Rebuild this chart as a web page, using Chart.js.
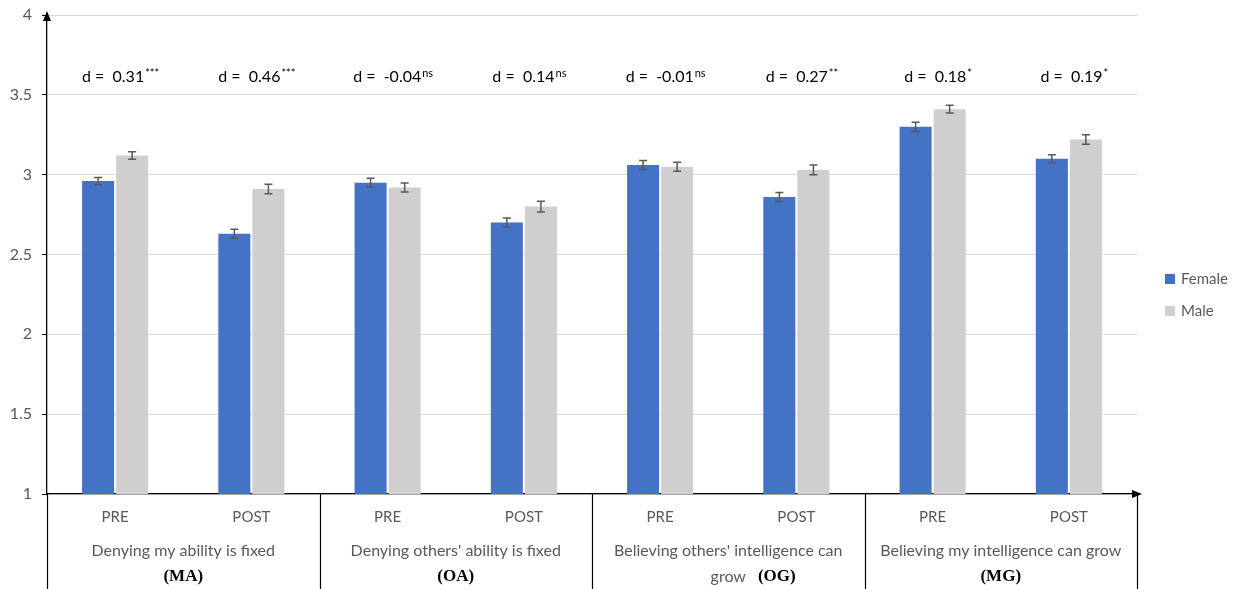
<!DOCTYPE html>
<html>
<head>
<meta charset="utf-8">
<script src="https://cdn.jsdelivr.net/npm/chart.js@4.4.1/dist/chart.umd.min.js"></script>
<style>
  body { margin: 0; background: #fff; }
  #wrap { width: 1236px; height: 589px; }
</style>
</head>
<body>
<div id="wrap"><canvas id="barChart"></canvas></div>
<script>
// data
const categories = ["PRE", "POST", "PRE", "POST", "PRE", "POST", "PRE", "POST"];
const femaleValues = [2.96, 2.63, 2.95, 2.70, 3.06, 2.86, 3.30, 3.10];
const maleValues = [3.12, 2.91, 2.92, 2.80, 3.05, 3.03, 3.41, 3.22];
const femaleErrors = [0.023, 0.028, 0.028, 0.028, 0.028, 0.028, 0.029, 0.025];
const maleErrors = [0.023, 0.030, 0.028, 0.034, 0.028, 0.030, 0.024, 0.030];
const effectSizes = ["0.31", "0.46", "-0.04", "0.14", "-0.01", "0.27", "0.18", "0.19"];
const significance = ["***", "***", "ns", "ns", "ns", "**", "*", "*"];
const groupNames = [
  ["Denying my ability is fixed", ""],
  ["Denying others' ability is fixed", ""],
  ["Believing others' intelligence can", "grow"],
  ["Believing my intelligence can grow", ""]
];
const groupCodes = ["(MA)", "(OA)", "(OG)", "(MG)"];

const FONT = "Lato, 'Open Sans', sans-serif";
Chart.defaults.font.family = FONT;

var overlayPlugin = {
  id: "overlay",
  afterDatasetsDraw(chart) {
    var ctx = chart.ctx;
    var y = chart.scales.y;
    chart.data.datasets.forEach(function (ds, di) {
      var meta = chart.getDatasetMeta(di);
      meta.data.forEach(function (bar, i) {
        var top = y.getPixelForValue(ds.data[i] + ds.errors[i]);
        var bot = y.getPixelForValue(ds.data[i] - ds.errors[i]);
        ctx.save();
        ctx.strokeStyle = "#595959";
        ctx.lineWidth = 1.5;
        ctx.beginPath();
        ctx.moveTo(bar.x, top); ctx.lineTo(bar.x, bot);
        ctx.moveTo(bar.x - 4, top); ctx.lineTo(bar.x + 4, top);
        ctx.moveTo(bar.x - 4, bot); ctx.lineTo(bar.x + 4, bot);
        ctx.stroke();
        ctx.restore();
      });
    });
  },
  afterDraw(chart) {
    var ctx = chart.ctx;
    var area = chart.chartArea;
    var x = chart.scales.x;
    ctx.save();

    // axis arrows
    ctx.fillStyle = "#000";
    ctx.beginPath();
    ctx.moveTo(area.left, area.top - 4);
    ctx.lineTo(area.left - 4, area.top + 6);
    ctx.lineTo(area.left + 4, area.top + 6);
    ctx.closePath(); ctx.fill();
    ctx.beginPath();
    ctx.moveTo(area.right + 5, area.bottom);
    ctx.lineTo(area.right - 5, area.bottom - 4);
    ctx.lineTo(area.right - 5, area.bottom + 4);
    ctx.closePath(); ctx.fill();

    // separators under the x axis
    ctx.strokeStyle = "#000";
    ctx.lineWidth = 1.2;
    for (var g = 0; g <= 4; g++) {
      var sx = Math.round(area.left + g * area.width / 4) + 0.5;
      ctx.beginPath();
      ctx.moveTo(sx, area.bottom);
      ctx.lineTo(sx, chart.height);
      ctx.stroke();
    }

    // group labels
    ctx.textBaseline = "middle";
    groupNames.forEach(function (lines, gi) {
      var cx = (x.getPixelForValue(gi * 2) + x.getPixelForValue(gi * 2 + 1)) / 2;
      ctx.fillStyle = "#595959";
      ctx.font = "16px " + FONT;
      ctx.textAlign = "center";
      ctx.fillText(lines[0], cx, area.bottom + 57);
      ctx.font = "bold 17px 'Liberation Serif', serif";
      ctx.fillStyle = "#000";
      if (lines[1]) {
        ctx.font = "16px " + FONT;
        ctx.fillStyle = "#595959";
        ctx.fillText(lines[1], cx, area.bottom + 83);
        var w = ctx.measureText(lines[1]).width;
        ctx.font = "bold 17px 'Liberation Serif', serif";
        ctx.fillStyle = "#000";
        ctx.textAlign = "left";
        ctx.fillText(groupCodes[gi], cx + w / 2 + 12, area.bottom + 83);
      } else {
        ctx.fillText(groupCodes[gi], cx, area.bottom + 83);
      }
    });

    // effect size annotations
    ctx.textAlign = "left";
    ctx.textBaseline = "alphabetic";
    effectSizes.forEach(function (d, i) {
      var cx = x.getPixelForValue(i);
      var main = "d =  " + d;
      ctx.font = "16px " + FONT;
      var mw = ctx.measureText(main).width;
      ctx.font = "11px " + FONT;
      var sw = ctx.measureText(significance[i]).width;
      var sx = cx - (mw + sw) / 2 + 5;
      ctx.fillStyle = "#000";
      ctx.font = "16px " + FONT;
      ctx.fillText(main, sx, area.top + 67);
      ctx.font = "11px " + FONT;
      ctx.fillText(significance[i], sx + mw + 1, area.top + 62);
    });

    // legend
    ctx.textBaseline = "middle";
    chart.data.datasets.forEach(function (ds, di) {
      var ly = 279 + di * 32;
      ctx.fillStyle = ds.backgroundColor;
      ctx.fillRect(area.right + 28, ly - 5, 10, 10);
      ctx.fillStyle = "#595959";
      ctx.font = "15px " + FONT;
      ctx.fillText(ds.label, area.right + 44, ly);
    });
    ctx.restore();
  }
};

var barChart = document.getElementById("barChart").getContext("2d");

var myBarChart = new Chart(barChart, {
  type: "bar",
  data: {
    labels: categories,
    datasets: [
      {
        label: "Female",
        data: femaleValues,
        errors: femaleErrors,
        backgroundColor: "#4472C4",
        categoryPercentage: 0.5,
        barPercentage: 0.94,
      },
      {
        label: "Male",
        data: maleValues,
        errors: maleErrors,
        backgroundColor: "#D0CECE",
        categoryPercentage: 0.5,
        barPercentage: 0.94,
      },
    ],
  },
  options: {
    responsive: true,
    maintainAspectRatio: false,
    animation: false,
    layout: {
      padding: { top: 15, right: 99, left: 0, bottom: 0 },
    },
    plugins: {
      legend: { display: false },
      tooltip: { enabled: false },
    },
    scales: {
      x: {
        grid: { display: false, drawTicks: false },
        border: { color: "#000", width: 1.3 },
        ticks: {
          color: "#595959",
          font: { size: 15 },
          padding: 14,
          autoSkip: false,
          maxRotation: 0,
        },
        afterFit: function (scale) { scale.height = 95; },
      },
      y: {
        min: 1,
        max: 4,
        ticks: {
          stepSize: 0.5,
          color: "#595959",
          font: { size: 16 },
          padding: 10,
          callback: function (value) { return String(value); },
        },
        grid: { color: "#d9d9d9", tickColor: "#000", tickLength: 5 },
        border: { color: "#000", width: 1.3 },
        afterFit: function (scale) {
          scale.width = 47;
          scale.paddingTop = 0;
          scale.paddingBottom = 0;
        },
      },
    },
  },
  plugins: [overlayPlugin],
});
</script>
</body>
</html>
